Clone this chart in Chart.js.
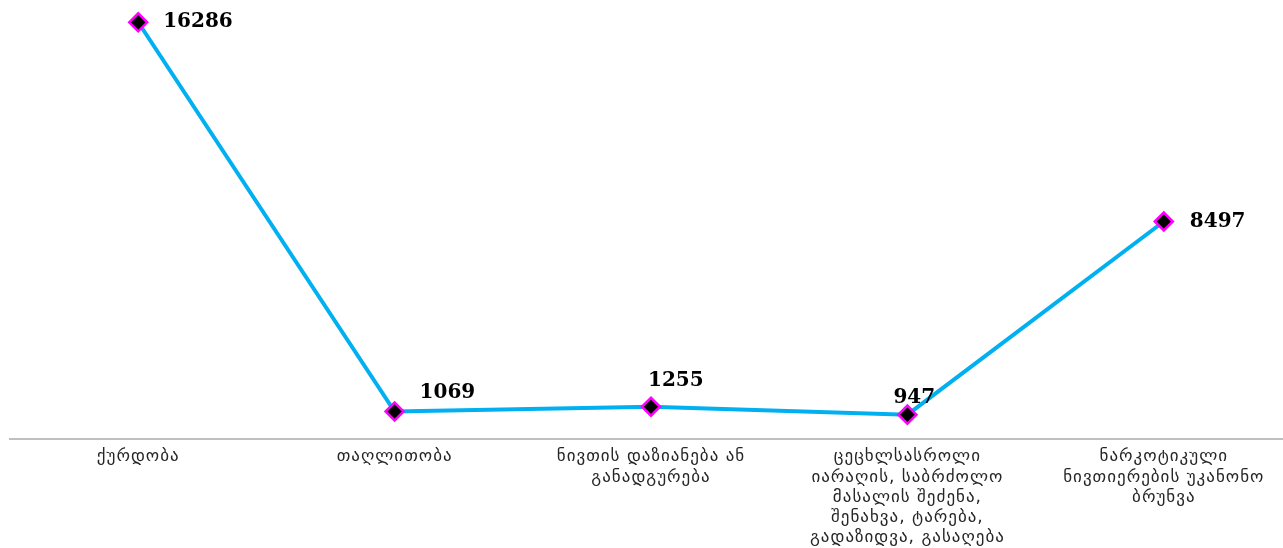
<!DOCTYPE html>
<html>
<head>
<meta charset="utf-8">
<script src="https://cdn.jsdelivr.net/npm/chart.js@4/dist/chart.umd.min.js"></script>
<style>
  html, body { margin: 0; padding: 0; background: #fff; overflow: hidden; }
  #wrap { width: 1292px; height: 548px; }
</style>
</head>
<body>
<div id="wrap"><canvas id="crimeChart"></canvas></div>
<script>
const categories = [
    'ქურდობა',
    'თაღლითობა',
    ['ნივთის დაზიანება ან', 'განადგურება'],
    ['ცეცხლსასროლი', 'იარაღის, საბრძოლო', 'მასალის შეძენა,', 'შენახვა, ტარება,', 'გადაზიდვა, გასაღება'],
    ['ნარკოტიკული', 'ნივთიერების უკანონო', 'ბრუნვა']
];
const crimeCounts = [16286, 1069, 1255, 947, 8497];

// where each value label sits relative to its point
const labelOffsets = [[25, 0], [25, -19], [-3, -26], [-14, -17], [26, 0]];

// the georgian font in the original runs wider, so space the letters a bit
const letterSpacing = {
    id: 'letterSpacing',
    beforeLayout(chart) { chart.ctx.letterSpacing = '1px'; },
    beforeDraw(chart) { chart.ctx.letterSpacing = '1px'; }
};

const valueLabels = {
    id: 'valueLabels',
    afterDatasetsDraw(chart) {
        const ctx = chart.ctx;
        const meta = chart.getDatasetMeta(0);
        ctx.save();
        ctx.letterSpacing = '0px';
        ctx.font = 'bold 20px "DejaVu Serif"';
        ctx.fillStyle = '#000';
        ctx.textAlign = 'left';
        ctx.textBaseline = 'middle';
        meta.data.forEach((pt, i) => {
            const off = labelOffsets[i];
            ctx.fillText(crimeCounts[i], pt.x + off[0], pt.y + off[1]);
        });
        ctx.restore();
    }
};

new Chart(document.getElementById('crimeChart'), {
    type: 'line',
    data: {
        labels: categories,
        datasets: [{
            data: crimeCounts,
            borderColor: '#00b0f0',
            borderWidth: 4,
            pointStyle: 'rectRot',
            pointRadius: 9,
            pointBackgroundColor: '#000',
            pointBorderColor: '#ff00ff',
            pointBorderWidth: 2.5,
            tension: 0,
            clip: false
        }]
    },
    options: {
        responsive: true,
        maintainAspectRatio: false,
        animation: false,
        layout: { autoPadding: false, padding: { left: 10, top: 4, right: 0, bottom: 0 } },
        plugins: { legend: { display: false }, tooltip: { enabled: false } },
        scales: {
            x: {
                offset: true,
                grid: { display: false },
                border: { display: true, color: '#bfbfbf', width: 2 },
                ticks: {
                    color: '#262626',
                    font: { family: '"DejaVu Sans"', size: 17, lineHeight: 1.19 },
                    padding: 0,
                    maxRotation: 0,
                    autoSkip: false
                }
            },
            y: {
                display: false,
                min: 0,
                max: 17000
            }
        }
    },
    plugins: [letterSpacing, valueLabels]
});
</script>
</body>
</html>
